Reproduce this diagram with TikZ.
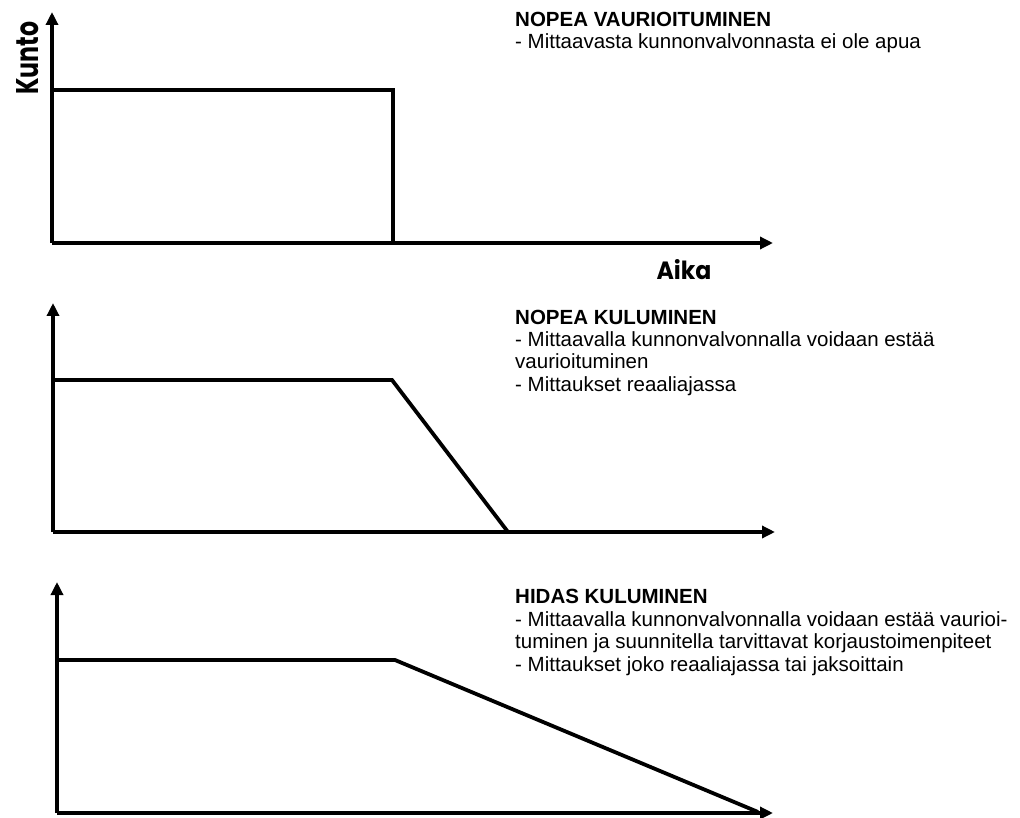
\documentclass[tikz,border=0pt]{standalone}
\usepackage{fontspec}
\setmainfont{Liberation Sans}
\newfontfamily\lblfont{Poppins}
\usetikzlibrary{arrows.meta}

\tikzset{
  axis/.style={line width=3.8pt, -{Triangle[length=13pt,width=12pt]}, line cap=butt},
  curve/.style={line width=3.8pt, line join=miter},
  txt/.style={anchor=base west, inner sep=0pt, font=\fontsize{20.5}{22}\selectfont},
  head/.style={txt, font=\fontsize{20.5}{22}\selectfont\bfseries},
  axlabel/.style={inner sep=0pt, font=\lblfont\bfseries}
}

\begin{document}
\begin{tikzpicture}[x=1pt, y=-1pt]
\useasboundingbox[fill=white] (0,0) rectangle (1020,818);

% ---------- Nopea vaurioituminen: step drop ----------
\coordinate (o1) at (52,243);
\coordinate (y1) at (52,12);
\coordinate (x1) at (773,243);
\coordinate (a1) at (52,90);
\coordinate (b1) at (393,90);
\coordinate (c1) at (393,243);
\draw[axis] (o1) -- (y1);
\draw[axis] (o1) -- (x1);
\draw[curve] (a1) -- (b1) -- (c1);
\node[axlabel, rotate=90] (kunto) at (28,58) {\resizebox{73pt}{22pt}{Kunto}};
\node[axlabel] (aika) at (684,270) {\resizebox{55pt}{20pt}{Aika}};

% ---------- Nopea kuluminen: steep decline ----------
\coordinate (o2) at (53,532);
\coordinate (y2) at (53,303);
\coordinate (x2) at (775,532);
\coordinate (a2) at (53,380);
\coordinate (b2) at (392,380);
\coordinate (c2) at (508,532);
\draw[axis] (o2) -- (y2);
\draw[axis] (o2) -- (x2);
\draw[curve] (a2) -- (b2) -- (c2);

% ---------- Hidas kuluminen: gentle decline ----------
\coordinate (o3) at (57,813);
\coordinate (y3) at (57,582);
\coordinate (x3) at (773,813);
\coordinate (a3) at (57,660);
\coordinate (b3) at (395,660);
\coordinate (c3) at (758,812);
\draw[axis] (o3) -- (y3);
\draw[axis] (o3) -- (x3);
\draw[curve] (a3) -- (b3) -- (c3);

% ---------- Descriptions ----------
\node[head] (h1)  at (515,27)  {NOPEA VAURIOITUMINEN};
\node[txt]  (t1a) at (515,49)  {- Mittaavasta kunnonvalvonnasta ei ole apua};

\node[head] (h2)  at (515,324) {NOPEA KULUMINEN};
\node[txt]  (t2a) at (515,346) {- Mittaavalla kunnonvalvonnalla voidaan estää};
\node[txt]  (t2b) at (515,368) {vaurioituminen};
\node[txt]  (t2c) at (515,391) {- Mittaukset reaaliajassa};

\node[head] (h3)  at (515,603) {HIDAS KULUMINEN};
\node[txt]  (t3a) at (515,626) {- Mittaavalla kunnonvalvonnalla voidaan estää vaurioi-};
\node[txt]  (t3b) at (515,648) {tuminen ja suunnitella tarvittavat korjaustoimenpiteet};
\node[txt]  (t3c) at (515,671) {- Mittaukset joko reaaliajassa tai jaksoittain};
\end{tikzpicture}
\end{document}
